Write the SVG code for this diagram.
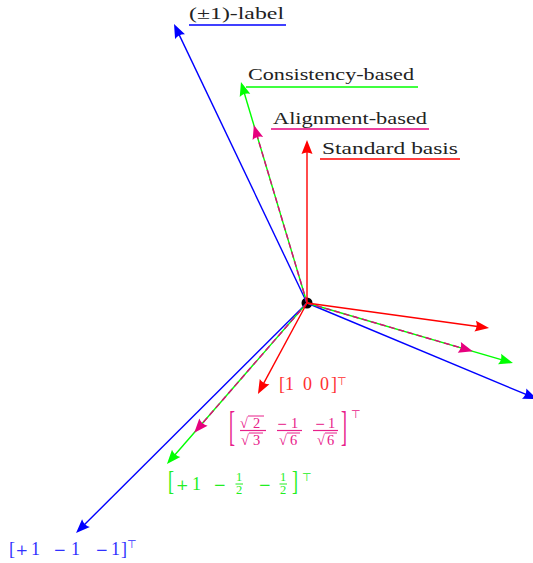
<svg xmlns="http://www.w3.org/2000/svg" width="533" height="563" viewBox="0 0 533 563">
<style>
.v{fill:none;stroke-width:1.4}
.r{stroke:#ff0000}.b{stroke:#0000ff}.g{stroke:#00ff00}.m{stroke:#e6007e;stroke-dasharray:6 3.5}
.t{font-family:"Liberation Serif","DejaVu Serif",serif;font-size:17px;fill:#222}
.ul{stroke-width:1.4}
.mt{font-family:"Liberation Serif","DejaVu Serif",serif;font-size:18px}
.op{font-family:"DejaVu Serif","Liberation Serif",serif;font-size:15px}
.ops{font-family:"DejaVu Serif","Liberation Serif",serif;font-size:12.5px}
.sm{font-family:"Liberation Serif","DejaVu Serif",serif;font-size:12.5px}
.fr{font-family:"Liberation Serif","DejaVu Serif",serif;font-size:14.5px}
.tp{font-family:"DejaVu Sans",sans-serif;font-size:11px}
</style>
<defs>
<marker id="ar" viewBox="-15 -7 16 14" refX="-6" refY="0" markerWidth="16" markerHeight="14" markerUnits="userSpaceOnUse" orient="auto"><path d="M0,0 L-14,-5.5 Q-11,0 -14,5.5 Z" fill="#ff0000"/></marker>
<marker id="ab" viewBox="-15 -7 16 14" refX="-6" refY="0" markerWidth="16" markerHeight="14" markerUnits="userSpaceOnUse" orient="auto"><path d="M0,0 L-14,-5.5 Q-11,0 -14,5.5 Z" fill="#0000ff"/></marker>
<marker id="ag" viewBox="-15 -7 16 14" refX="-6" refY="0" markerWidth="16" markerHeight="14" markerUnits="userSpaceOnUse" orient="auto"><path d="M0,0 L-14,-5.5 Q-11,0 -14,5.5 Z" fill="#00ff00"/></marker>
<marker id="am" viewBox="-15 -7 16 14" refX="-6" refY="0" markerWidth="16" markerHeight="14" markerUnits="userSpaceOnUse" orient="auto"><path d="M0,0 L-14,-5.5 Q-11,0 -14,5.5 Z" fill="#e6007e"/></marker>
</defs>

<g id="origin"><circle cx="307" cy="303" r="5.5" fill="#000"/></g>

<g id="connectors">
<line class="v b" x1="307" y1="303" x2="176.6" y2="29.4" marker-end="url(#ab)"/>
<line class="v b" x1="307" y1="303" x2="80.3" y2="528.8" marker-end="url(#ab)"/>
<line class="v b" x1="307" y1="303" x2="531.5" y2="396.7" marker-end="url(#ab)"/>
<line class="v g" x1="307" y1="303" x2="242.7" y2="87.7" marker-end="url(#ag)"/>
<line class="v g" x1="307" y1="303" x2="507.2" y2="361.3" marker-end="url(#ag)"/>
<line class="v g" x1="307" y1="303" x2="170.9" y2="459.5" marker-end="url(#ag)"/>
<line class="v m" x1="307" y1="303" x2="255.6" y2="130.8" marker-end="url(#am)"/>
<line class="v m" x1="307" y1="303" x2="467.0" y2="349.6" marker-end="url(#am)"/>
<line class="v m" x1="307" y1="303" x2="198.2" y2="428.1" marker-end="url(#am)"/>
<line class="v r" x1="307" y1="303" x2="307" y2="146" marker-end="url(#ar)"/>
<line class="v r" x1="307" y1="303" x2="483.1" y2="327.2" marker-end="url(#ar)"/>
<line class="v r" x1="307" y1="303" x2="260.8" y2="388.7" marker-end="url(#ar)"/>
</g>

<g id="label-pm1">
<text class="t" x="189" y="19" textLength="95" lengthAdjust="spacingAndGlyphs">(±1)-label</text>
<line class="ul" x1="189" y1="25" x2="286" y2="25" stroke="#0000ff"/>
</g>
<g id="label-consistency">
<text class="t" x="248" y="80" textLength="166" lengthAdjust="spacingAndGlyphs">Consistency-based</text>
<line class="ul" x1="246" y1="87" x2="418" y2="87" stroke="#00ff00"/>
</g>
<g id="label-alignment">
<text class="t" x="273" y="124" textLength="154" lengthAdjust="spacingAndGlyphs">Alignment-based</text>
<line class="ul" x1="271" y1="129" x2="429" y2="129" stroke="#e6007e"/>
</g>
<g id="label-standard">
<text class="t" x="322" y="154" textLength="136" lengthAdjust="spacingAndGlyphs">Standard basis</text>
<line class="ul" x1="320" y1="159" x2="460" y2="159" stroke="#ff0000"/>
</g>

<g id="vec-red" fill="#ff3030">
<text class="mt" x="0" y="0" transform="translate(279,390) scale(1,1.1)">[</text>
<text class="mt" x="285" y="390">1</text>
<text class="mt" x="303" y="390">0</text>
<text class="mt" x="320" y="390">0</text>
<text class="mt" x="0" y="0" transform="translate(331,390) scale(1,1.1)">]</text>
<text class="tp" x="337" y="385">⊤</text>
</g>

<g id="vec-blue" fill="#3030ff">
<text class="mt" x="9" y="555">[</text>
<text class="op" x="15.5" y="555">+</text>
<text class="mt" x="31" y="555">1</text>
<text class="op" x="53.5" y="555">−</text>
<text class="mt" x="71" y="555">1</text>
<text class="op" x="95.5" y="555">−</text>
<text class="mt" x="111" y="555">1</text>
<text class="mt" x="121" y="555">]</text>
<text class="tp" x="127" y="548">⊤</text>
</g>

<g id="vec-green" fill="#22ee22">
<text class="mt" x="0" y="0" transform="translate(168,490) scale(1,1.55)">[</text>
<text class="op" x="176" y="490">+</text>
<text class="mt" x="192" y="490">1</text>
<text class="op" x="213.5" y="490">−</text>
<text class="sm" x="236" y="481">1</text>
<line x1="235.5" y1="484" x2="243" y2="484" stroke="#22ee22" stroke-width="1"/>
<text class="sm" x="236" y="494">2</text>
<text class="op" x="258.5" y="490">−</text>
<text class="sm" x="280" y="481">1</text>
<line x1="279.5" y1="484" x2="287" y2="484" stroke="#22ee22" stroke-width="1"/>
<text class="sm" x="280" y="494">2</text>
<text class="mt" x="0" y="0" transform="translate(292,490) scale(1,1.55)">]</text>
<text class="tp" x="302" y="481">⊤</text>
</g>

<g id="vec-magenta" fill="#e8208a">
<text class="mt" x="0" y="0" transform="translate(229,440) scale(1,2.3)">[</text>
<text class="fr" x="240" y="428">√</text>
<text class="fr" x="253" y="428">2</text>
<line x1="248" y1="416" x2="264" y2="416" stroke="#e8208a" stroke-width="1"/>
<line x1="240" y1="430.5" x2="266" y2="430.5" stroke="#e8208a" stroke-width="1.2"/>
<text class="fr" x="241" y="445">√</text>
<text class="fr" x="253" y="445">3</text>
<line x1="249" y1="433" x2="263" y2="433" stroke="#e8208a" stroke-width="1"/>
<text class="ops" x="277" y="428">−</text>
<text class="fr" x="291" y="428">1</text>
<line x1="277" y1="430.5" x2="302" y2="430.5" stroke="#e8208a" stroke-width="1.2"/>
<text class="fr" x="279" y="445">√</text>
<text class="fr" x="290" y="445">6</text>
<line x1="287" y1="433" x2="300" y2="433" stroke="#e8208a" stroke-width="1"/>
<text class="ops" x="315" y="428">−</text>
<text class="fr" x="328" y="428">1</text>
<line x1="313" y1="430.5" x2="338" y2="430.5" stroke="#e8208a" stroke-width="1.2"/>
<text class="fr" x="317" y="445">√</text>
<text class="fr" x="327" y="445">6</text>
<line x1="325" y1="433" x2="337" y2="433" stroke="#e8208a" stroke-width="1"/>
<text class="mt" x="0" y="0" transform="translate(341,440) scale(1,2.3)">]</text>
<text class="tp" x="351" y="418">⊤</text>
</g>
</svg>
